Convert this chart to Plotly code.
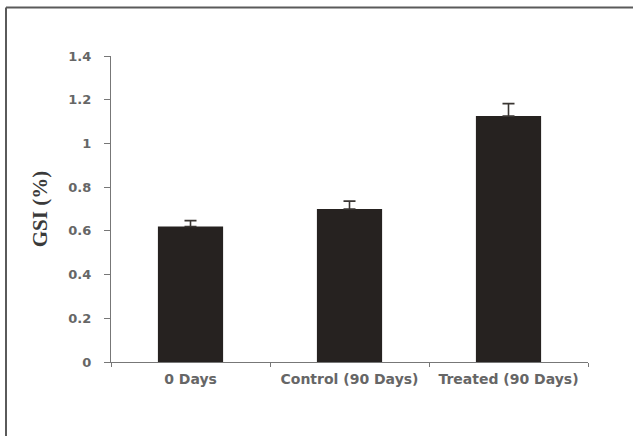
import plotly.graph_objects as go

categories = ["0 Days", "Control (90 Days)", "Treated (90 Days)"]
gsi_values = [0.62, 0.70, 1.125]
gsi_errors = [0.027, 0.036, 0.057]
y_ticks = [0, 0.2, 0.4, 0.6, 0.8, 1, 1.2, 1.4]
y_ticktext = ["0", "0.2", "0.4", "0.6", "0.8", "1", "1.2", "1.4"]

fig = go.Figure()
fig.add_trace(go.Bar(
    x=categories, y=gsi_values,
    marker=dict(color="#262220", line=dict(width=0)),
    error_y=dict(type="data", array=gsi_errors, arrayminus=[0]*len(gsi_errors),
                 symmetric=False, color="#3a3633", thickness=1.6, width=6),
    width=0.41,
))

W, H = 633, 436
ml, mr, mt, mb = 111, 45, 56, 74
pw, ph = W - ml - mr, H - mt - mb

def px_x(x):
    return (x - ml) / pw

def px_y(y):
    return 1 - (y - mt) / ph

fig.update_layout(
    width=W, height=H,
    margin=dict(l=ml, r=mr, t=mt, b=mb, pad=0),
    paper_bgcolor="white", plot_bgcolor="white",
    showlegend=False,
    font=dict(family="DejaVu Sans", color="#666666"),
    xaxis=dict(
        showline=True, linecolor="#777777", linewidth=1.2,
        ticks="outside", ticklen=4, tickcolor="#777777", tickson="boundaries",
        tickfont=dict(size=14, color="#666666", weight="bold"),
        ticklabelstandoff=4,
        showgrid=False, zeroline=False,
    ),
    yaxis=dict(
        range=[0, 1.4], tickvals=y_ticks, ticktext=y_ticktext,
        showline=True, linecolor="#777777", linewidth=1.2,
        ticks="outside", ticklen=6, tickcolor="#777777",
        tickfont=dict(size=13, color="#666666", weight="bold"),
        ticklabelstandoff=10,
        showgrid=False, zeroline=False,
        title=dict(text="<b>GSI (%)</b>", font=dict(family="Liberation Serif", size=21, color="#3a3a3a"),
                   standoff=14),
    ),
    shapes=[
        dict(type="line", xref="paper", yref="paper", x0=px_x(6), x1=px_x(640),
             y0=px_y(7.5), y1=px_y(7.5), line=dict(color="#5a5a5a", width=2)),
        dict(type="line", xref="paper", yref="paper", x0=px_x(6), x1=px_x(6),
             y0=px_y(7.5), y1=px_y(440), line=dict(color="#5a5a5a", width=2)),
    ],
)

fig.write_html("out.html")
